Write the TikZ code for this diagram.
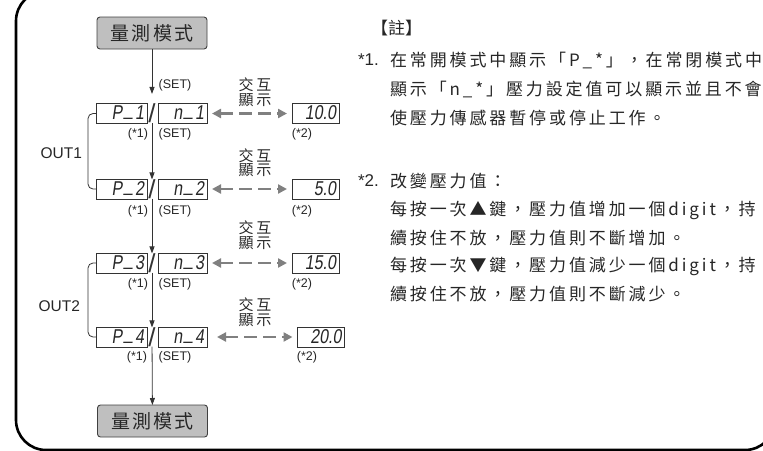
\documentclass[tikz,border=0pt]{standalone}
\usepackage{fontspec}
\setmainfont{Liberation Sans}
\newfontfamily\cjkfont{Noto Sans CJK TC}
\newfontfamily\cjkspaced{Noto Sans CJK TC}[LetterSpace=17]
\newfontfamily\cjkmode{Noto Sans CJK TC}[LetterSpace=12]
\newfontfamily\segfont{Liberation Sans}[FakeStretch=0.8,FakeSlant=0.15]
\usepackage{tikz}
\usetikzlibrary{arrows.meta}
\newcommand{\segheight}{20pt}
\newcommand{\segbar}{\kern2pt\raisebox{0.2em}{\_}\kern2pt}
\newcommand{\notesize}{\fontsize{17}{17}\selectfont}
\tikzstyle{panel}=[x=1pt, y=-1pt,
                   % Plain nodes, no padding.
                   every node/.style={inner sep=0, outer sep=0, text=black!85}]
\tikzstyle{mode}=[draw=black!75, fill=black!25, line width=0.9pt, rounded corners=3pt,
                  minimum width=110pt, minimum height=32pt, font=\cjkmode\fontsize{19}{19}\selectfont]
\tikzstyle{seg}=[draw=black!80, line width=0.9pt, minimum height=\segheight, inner xsep=3pt,
                 align=right, text height=14pt, text depth=2pt, font=\segfont\fontsize{20}{20}\selectfont]
\tikzstyle{pseg}=[seg, text width=45pt]
\tikzstyle{nseg}=[seg, text width=43pt]
\tikzstyle{vseg}=[seg, text width=41pt]
\tikzstyle{slash}=[font=\fontsize{26}{26}\selectfont, text=black!80]
\tikzstyle{flow}=[draw=black!80, line width=0.8pt, -{Triangle[length=7pt,width=5pt]}]
\tikzstyle{dashpair}=[draw=black!50, line width=2.4pt, dash pattern=on 13pt off 6pt,
                      {Triangle[length=9pt,width=9pt]}-{Triangle[length=9pt,width=9pt]}]
\tikzstyle{outline}=[draw=black!80, line width=0.8pt, rounded corners=5pt]
\tikzstyle{tag}=[font=\fontsize{12.5}{12.5}\selectfont]
\tikzstyle{outtag}=[anchor=east, font=\fontsize{15.5}{15.5}\selectfont]
\tikzstyle{swaptext}=[align=center, font=\cjkspaced\fontsize{15}{14.5}\selectfont]
\tikzstyle{note}=[anchor=west, font=\cjkspaced\notesize]
\tikzstyle{notenum}=[anchor=west, font=\notesize]

\begin{document}
\begin{tikzpicture}[panel]
    \useasboundingbox (0,0) rectangle (763,450);
    \draw[line width=2.6pt, rounded corners=30pt] (16,-9) rectangle (775,450);

    \node[mode] (M0) at (152,33) {量測模式};
    \node[tag] (B0) at (175,85) {(SET)};

    % row 1
    \node[pseg] (P1) at (121.5,113.5) {P\segbar 1};
    \node[slash] (S1) at (152,113.5) {/};
    \node[nseg] (N1) at (182.5,113.5) {n\segbar 1};
    \node[vseg] (V1) at (315.5,113.5) {10.0};
    \node[swaptext] (X1) at (255,92) {交互\\顯示};
    \node[tag] (A1) at (138,134) {(*1)};
    \node[tag] (B1) at (175,134) {(SET)};
    \node[tag] (C1) at (302,134) {(*2)};
    \draw[dashpair] ([xshift=5pt]N1.east) -- ([xshift=-5pt]V1.west);

    % row 2
    \node[pseg] (P2) at (121.5,189) {P\segbar 2};
    \node[slash] (S2) at (152,189) {/};
    \node[nseg] (N2) at (182.5,189) {n\segbar 2};
    \node[vseg] (V2) at (315.5,189) {5.0};
    \node[swaptext] (X2) at (255,162.5) {交互\\顯示};
    \node[tag] (A2) at (138,211) {(*1)};
    \node[tag] (B2) at (175,211) {(SET)};
    \node[tag] (C2) at (302,211) {(*2)};
    \draw[dashpair] ([xshift=5pt]N2.east) -- ([xshift=-5pt]V2.west);

    % row 3
    \node[pseg] (P3) at (121.5,263) {P\segbar 3};
    \node[slash] (S3) at (152,263) {/};
    \node[nseg] (N3) at (182.5,263) {n\segbar 3};
    \node[vseg] (V3) at (315.5,263) {15.0};
    \node[swaptext] (X3) at (255,235) {交互\\顯示};
    \node[tag] (A3) at (138,284) {(*1)};
    \node[tag] (B3) at (175,284) {(SET)};
    \node[tag] (C3) at (302,284) {(*2)};
    \draw[dashpair] ([xshift=5pt]N3.east) -- ([xshift=-5pt]V3.west);

    % row 4
    \node[pseg] (P4) at (121.5,337) {P\segbar 4};
    \node[slash] (S4) at (152,337) {/};
    \node[nseg] (N4) at (182.5,337) {n\segbar 4};
    \node[vseg] (V4) at (321,337) {20.0};
    \node[swaptext] (X4) at (255,312) {交互\\顯示};
    \node[tag] (A4) at (137,357) {(*1)};
    \node[tag] (B4) at (175,357) {(SET)};
    \node[tag] (C4) at (307,357) {(*2)};
    \draw[dashpair] ([xshift=10pt]N4.east) -- ([xshift=-5pt]V4.west);

    \node[mode] (M5) at (152.5,421) {量測模式};

    \draw[flow] (M0) -- ([yshift=10pt]S1.north);
    \draw[flow] (S1) -- (S2);
    \draw[flow] (S2) -- (S3);
    \draw[flow] (S3) -- (S4);
    \draw[flow] (S4) -- (M5);

    \draw[outline] (P1.west) -- ++(-8,0) |- (P2.west);
    \draw[outline] (P3.west) -- ++(-8,0) |- (P4.west);
    \node[outtag] (O1) at (82,153) {OUT1};
    \node[outtag] (O2) at (80,306) {OUT2};

    % notes
    \node[anchor=west, font=\cjkfont\notesize] (H) at (371,28) {【註】};
    \node[notenum] (K1) at (358,60) {*1.};
    \node[note] (L1) at (390,60) {在常開模式中顯示「P\_*」，在常閉模式中};
    \node[note] (L2) at (390,89) {顯示「n\_*」壓力設定值可以顯示並且不會};
    \node[note] (L3) at (390,118) {使壓力傳感器暫停或停止工作。};
    \node[notenum] (K2) at (358,181) {*2.};
    \node[note] (L4) at (390,181) {改變壓力值：};
    \node[note] (L5) at (390,210) {每按一次▲鍵，壓力值增加一個digit，持};
    \node[note] (L6) at (390,238) {續按住不放，壓力值則不斷增加。};
    \node[note] (L7) at (390,266) {每按一次▼鍵，壓力值減少一個digit，持};
    \node[note] (L8) at (390,294) {續按住不放，壓力值則不斷減少。};
\end{tikzpicture}
\end{document}
